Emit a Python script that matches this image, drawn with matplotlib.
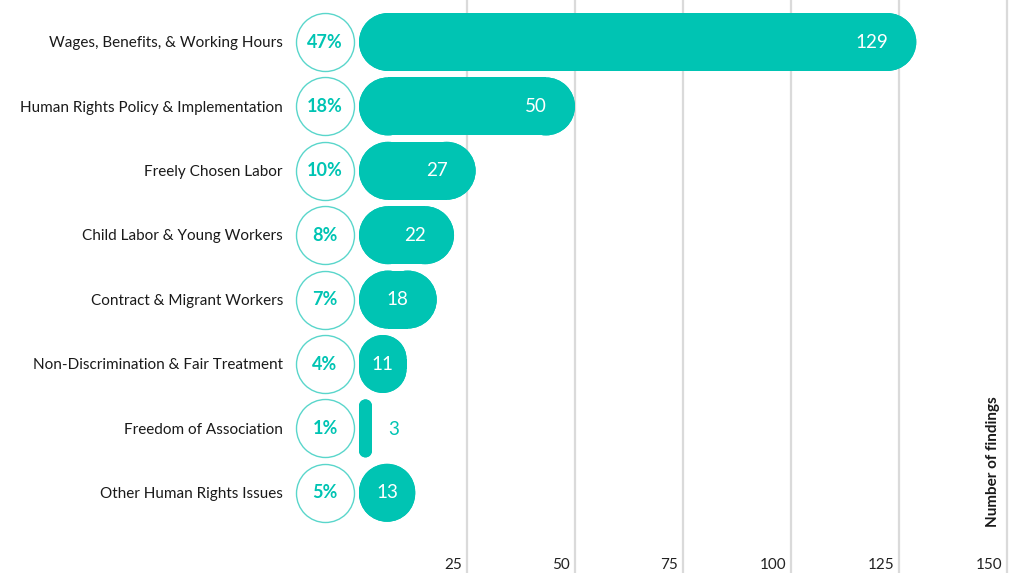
import matplotlib
matplotlib.use('Agg')
import matplotlib.pyplot as plt
from matplotlib.patches import Rectangle, Ellipse

categories = ['Wages, Benefits, & Working Hours', 'Human Rights Policy & Implementation',
              'Freely Chosen Labor', 'Child Labor & Young Workers', 'Contract & Migrant Workers',
              'Non-Discrimination & Fair Treatment', 'Freedom of Association', 'Other Human Rights Issues']
findings = [129, 50, 27, 22, 18, 11, 3, 13]
shares = ['47%', '18%', '10%', '8%', '7%', '4%', '1%', '5%']
ticks = [25, 50, 75, 100, 125, 150]

TEAL = '#00c4b3'
RING = '#5ad6cb'
W, H = 1024, 585
# pixel layout: value 0 at x=359, 4.32 px per finding; first row at y=42, 64.4 px per row
x0, xs = 359.0, 4.32
y0, ys = 42.0, 64.4

plt.rcParams['font.family'] = ['Lato', 'DejaVu Sans']
fig = plt.figure(figsize=(W / 100, H / 100), dpi=100)
ax = fig.add_axes([0, 0, 1, 1])
ax.set_xlim(-x0 / xs, (W - x0) / xs)
ax.set_ylim((H - y0) / ys, -y0 / ys)
ax.axis('off')


def rounded_bar(ax, left, yc, width, height, color):
    # rounded rectangle built from rects and corner ellipses, radius = half the short side (pixels)
    wpx, hpx = width * xs, height * ys
    rpx = min(wpx, hpx) / 2
    rx, ry = rpx / xs, rpx / ys
    bottom = yc - height / 2
    kw = dict(fc=color, ec='none', lw=0, zorder=2)
    ax.add_patch(Rectangle((left + rx, bottom), width - 2 * rx, height, **kw))
    ax.add_patch(Rectangle((left, bottom + ry), width, height - 2 * ry, **kw))
    for cx in (left + rx, left + width - rx):
        for cy in (bottom + ry, bottom + height - ry):
            ax.add_patch(Ellipse((cx, cy), 2 * rx, 2 * ry, **kw))


ax.vlines(ticks, -y0 / ys, (573 - y0) / ys, color='#dadada', lw=1.6, zorder=0)
for t in ticks:
    ax.text(t - 5 / xs, (565 - y0) / ys, str(t), ha='right', va='center',
            fontsize=11, color='#222222')

bar_h = 0.9
for i, (cat, v, s) in enumerate(zip(categories, findings, shares)):
    rounded_bar(ax, 0, i, v, bar_h, TEAL)
    if v >= 15:
        ax.text(v - 28 / xs, i, str(v), ha='right', va='center', color='white',
                fontsize=13.5, zorder=3)
    elif v >= 10:
        ax.text(v / 2, i, str(v), ha='center', va='center', color='white',
                fontsize=13.5, zorder=3)
    else:
        ax.text(v + 22 / xs, i + 0.02, str(v), ha='center', va='center', color=TEAL,
                fontsize=13.5, zorder=3)

    ax.scatter([-34 / xs], [i], s=(58 * 0.72) ** 2, facecolor='white', edgecolor=RING,
               linewidth=1.0, zorder=2)
    ax.text(-34 / xs, i, s, ha='center', va='center', color=TEAL, fontsize=13,
            fontweight='bold', zorder=3)
    ax.text(-76 / xs, i + 0.02, cat, ha='right', va='center', fontsize=11, color='#1a1a1a')

ax.text(993 / xs - x0 / xs, (462 - y0) / ys, 'Number of findings', rotation=90,
        ha='center', va='center', fontsize=11, fontweight='bold', color='#1a1a1a')

fig.savefig('out.png', dpi=100)
